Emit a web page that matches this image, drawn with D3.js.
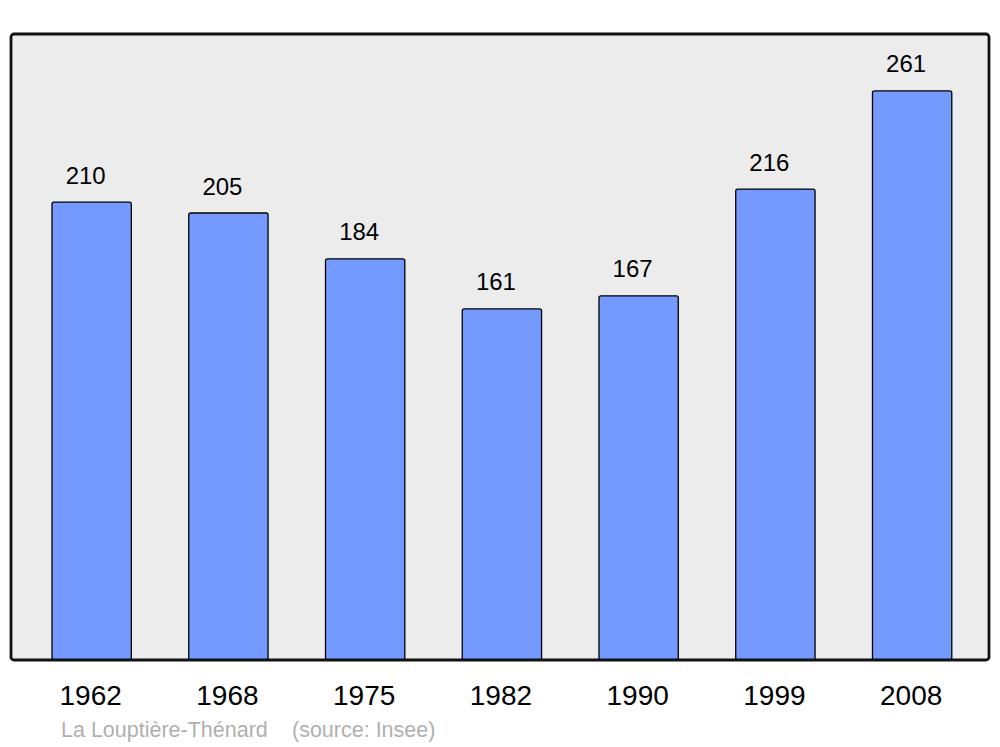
<!DOCTYPE html>
<html>
<head>
<meta charset="utf-8">
<script src="https://cdn.jsdelivr.net/npm/d3@7"></script>
<style>
  html, body { margin: 0; padding: 0; background: #ffffff; }
  svg { display: block; font-family: "Liberation Sans", Arial, sans-serif; }
</style>
</head>
<body>
<svg id="chart" width="1000" height="747"></svg>
<script>
const years = ["1962", "1968", "1975", "1982", "1990", "1999", "2008"];
const population = [210, 205, 184, 161, 167, 216, 261];
const commune = "La Louptière-Thénard";
const source = "(source: Insee)";

const svg = d3.select("#chart");

const frame = { left: 11, top: 34, right: 989, bottom: 660 };

const x = d3.scaleBand()
  .domain(years)
  .range([23.3, 980.5])
  .paddingInner(0.42)
  .paddingOuter(0.21);

const y = d3.scaleLinear()
  .domain([0, d3.max(population) * 1.1])
  .range([frame.bottom, frame.top]);

// background
svg.append("rect")
  .attr("x", frame.left).attr("y", frame.top)
  .attr("width", frame.right - frame.left)
  .attr("height", frame.bottom - frame.top)
  .attr("rx", 3).attr("ry", 3)
  .attr("fill", "#ececec");

// bars
svg.append("g").selectAll("rect")
  .data(years)
  .join("rect")
  .attr("x", d => x(d))
  .attr("y", (d, i) => y(population[i]))
  .attr("width", x.bandwidth())
  .attr("height", (d, i) => y(0) - y(population[i]))
  .attr("rx", 2).attr("ry", 2)
  .attr("fill", "#7499ff")
  .attr("stroke", "#000")
  .attr("stroke-width", 1.3);

// frame border (on top)
svg.append("rect")
  .attr("x", frame.left).attr("y", frame.top)
  .attr("width", frame.right - frame.left)
  .attr("height", frame.bottom - frame.top)
  .attr("rx", 3).attr("ry", 3)
  .attr("fill", "none")
  .attr("stroke", "#111")
  .attr("stroke-width", 2.8);

// value labels
svg.append("g").selectAll("text")
  .data(years)
  .join("text")
  .attr("x", d => x(d) + x.bandwidth() / 2 - 6)
  .attr("y", (d, i) => y(population[i]) - 18.5)
  .attr("text-anchor", "middle")
  .attr("font-size", 24)
  .attr("fill", "#000")
  .text((d, i) => population[i]);

// x axis labels
const xAxis = d3.axisBottom(x).tickSize(0).tickPadding(0);
const gx = svg.append("g")
  .attr("transform", `translate(0,${frame.bottom})`)
  .call(xAxis);
gx.select(".domain").remove();
gx.selectAll("text")
  .attr("y", 0)
  .attr("dy", null)
  .attr("transform", "translate(-1,45)")
  .attr("font-size", 28)
  .attr("font-family", "Liberation Sans, Arial, sans-serif")
  .attr("fill", "#000");

// caption
svg.append("text")
  .attr("x", 61).attr("y", 737)
  .attr("font-size", 21.5)
  .attr("fill", "#b0b0b0")
  .text(commune);
svg.append("text")
  .attr("x", 292).attr("y", 737)
  .attr("font-size", 21.5)
  .attr("fill", "#b0b0b0")
  .text(source);
</script>
</body>
</html>
